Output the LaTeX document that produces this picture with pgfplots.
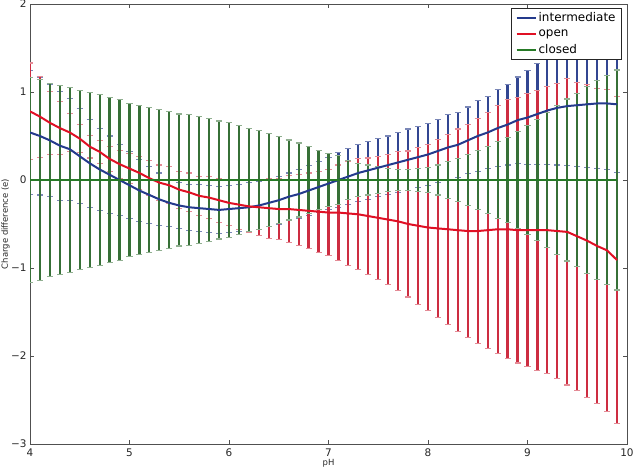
\documentclass[border=0pt]{standalone}
\usepackage{fontspec}
\setmainfont{DejaVu Sans}
\usepackage{pgfplots}
\usepackage{pgfplotstable}
\pgfplotsset{compat=1.18}
\definecolor{cblue}{RGB}{36,58,140}
\definecolor{cred}{RGB}{224,16,36}
\definecolor{cgreen}{RGB}{38,122,38}
\definecolor{bblue}{RGB}{50,70,145}
\definecolor{bred}{RGB}{205,45,65}
\definecolor{bgreen}{RGB}{55,112,55}
\definecolor{spine}{RGB}{80,80,80}
\pgfplotstableread{
x b be r re ge
4.0 0.54 0.70 0.78 0.55 1.16
4.1 0.50 0.67 0.72 0.46 1.14
4.2 0.45 0.64 0.65 0.36 1.10
4.3 0.39 0.62 0.59 0.30 1.07
4.4 0.35 0.58 0.54 0.22 1.05
4.5 0.27 0.54 0.47 0.16 1.02
4.6 0.19 0.50 0.38 0.13 0.99
4.7 0.12 0.47 0.32 0.13 0.97
4.8 0.06 0.44 0.24 0.14 0.94
4.9 0.00 0.40 0.18 0.16 0.91
5.0 -0.06 0.38 0.13 0.17 0.87
5.1 -0.12 0.35 0.08 0.19 0.85
5.2 -0.17 0.32 0.02 0.20 0.82
5.3 -0.22 0.30 -0.03 0.20 0.80
5.4 -0.26 0.27 -0.06 0.21 0.78
5.5 -0.29 0.26 -0.11 0.21 0.75
5.6 -0.31 0.26 -0.14 0.22 0.74
5.7 -0.32 0.27 -0.18 0.22 0.72
5.8 -0.33 0.27 -0.20 0.24 0.70
5.9 -0.34 0.27 -0.23 0.25 0.67
6.0 -0.33 0.27 -0.26 0.26 0.65
6.1 -0.32 0.27 -0.28 0.28 0.62
6.2 -0.31 0.28 -0.30 0.30 0.59
6.3 -0.29 0.27 -0.31 0.32 0.56
6.4 -0.26 0.27 -0.32 0.34 0.53
6.5 -0.23 0.27 -0.33 0.35 0.49
6.6 -0.19 0.27 -0.33 0.38 0.455
6.7 -0.16 0.28 -0.34 0.40 0.42
6.8 -0.12 0.28 -0.35 0.43 0.38
6.9 -0.08 0.29 -0.36 0.46 0.34
7.0 -0.04 0.30 -0.37 0.49 0.30
7.1 0.00 0.31 -0.37 0.54 0.28
7.2 0.04 0.32 -0.38 0.59 0.22
7.3 0.08 0.32 -0.39 0.63 0.19
7.4 0.11 0.33 -0.41 0.66 0.17
7.5 0.14 0.33 -0.43 0.70 0.15
7.6 0.17 0.33 -0.45 0.74 0.13
7.7 0.20 0.34 -0.47 0.79 0.12
7.8 0.23 0.35 -0.50 0.83 0.12
7.9 0.26 0.35 -0.52 0.89 0.13
8.0 0.29 0.35 -0.54 0.94 0.14
8.1 0.33 0.36 -0.55 1.01 0.17
8.2 0.37 0.37 -0.56 1.08 0.21
8.3 0.40 0.37 -0.57 1.15 0.24
8.4 0.45 0.38 -0.58 1.21 0.285
8.5 0.50 0.40 -0.58 1.28 0.335
8.6 0.54 0.41 -0.57 1.34 0.38
8.7 0.59 0.44 -0.56 1.41 0.44
8.8 0.63 0.46 -0.56 1.47 0.48
8.9 0.68 0.49 -0.57 1.51 0.555
9.0 0.71 0.53 -0.57 1.55 0.62
9.1 0.75 0.57 -0.57 1.59 0.69
9.2 0.79 0.61 -0.57 1.63 0.77
9.3 0.82 0.65 -0.58 1.68 0.845
9.4 0.84 0.68 -0.59 1.74 0.92
9.5 0.85 0.70 -0.64 1.75 0.985
9.6 0.86 0.72 -0.69 1.78 1.06
9.7 0.87 0.74 -0.75 1.79 1.13
9.8 0.87 0.75 -0.80 1.83 1.19
9.9 0.86 0.77 -0.91 1.86 1.25
}\data

\begin{document}
\begin{tikzpicture}
\begin{axis}[
  at={(0,0)}, anchor=south west,
  scale only axis, width=597bp, height=440bp,
  xmin=4, xmax=10, ymin=-3, ymax=2,
  xtick={4,5,6,7,8,9,10}, xticklabels={4,5,6,7,8,9,10},
  ytick={-3,-2,-1,0,1,2}, yticklabels={−3,−2,−1,0,1,2},
  tick align=inside, major tick length=4bp,
  axis line style={draw=spine, line width=0.8bp},
  every tick/.style={spine, line width=0.6bp},
  ticklabel style={font=\fontsize{10.5}{12}\selectfont, text=black!85},
  xticklabel style={yshift=-1bp},
  xlabel={pH}, ylabel={Charge difference (e)},
  label style={font=\fontsize{8.5}{10}\selectfont, text=black!85},
  xlabel style={at={(axis description cs:0.5,0)}, anchor=north, yshift=-12bp},
  ylabel style={at={(axis description cs:-0.041,0.5)}, anchor=center},
  legend style={at={(rel axis cs:0.9916,0.991)}, anchor=north east,
    draw=black!85, line width=0.8bp, fill=white,
    font=\fontsize{12}{14}\selectfont, inner xsep=4bp, inner ysep=2.5bp,
    row sep=2.5bp},
  legend cell align=left,
  legend image code/.code={\draw[#1] (0bp,0bp) -- (19bp,0bp);},
]
\addplot[draw=none, forget plot,
  error bars/.cd, y dir=both, y explicit, error mark=|,
  error bar style={line width=2.2bp, draw=bblue},
  error mark options={line width=1.1bp, mark size=3bp, draw=bblue!65}]
  table[x=x, y=b, y error=be] {\data};
\addplot[draw=none, forget plot,
  error bars/.cd, y dir=both, y explicit, error mark=|,
  error bar style={line width=2.2bp, draw=bred},
  error mark options={line width=1.1bp, mark size=3bp, draw=bred!55}]
  table[x=x, y=r, y error=re] {\data};
\addplot[draw=none, forget plot,
  error bars/.cd, y dir=both, y explicit, error mark=|,
  error bar style={line width=2.2bp, draw=bgreen},
  error mark options={line width=1.1bp, mark size=3bp, draw=bgreen!55}]
  table[x=x, y expr=0, y error=ge] {\data};
\addplot[cblue, line width=2bp, no marks] table[x=x, y=b] {\data};
\addlegendentry{intermediate}
\addplot[cred, line width=2bp, no marks] table[x=x, y=r] {\data};
\addlegendentry{open}
\addplot[cgreen, line width=2bp, no marks] table[x=x, y expr=0] {\data};
\addlegendentry{closed}
\end{axis}
\pgfresetboundingbox
\path[use as bounding box] (-30bp,-23bp) rectangle (603bp,444bp);
\end{tikzpicture}
\end{document}
